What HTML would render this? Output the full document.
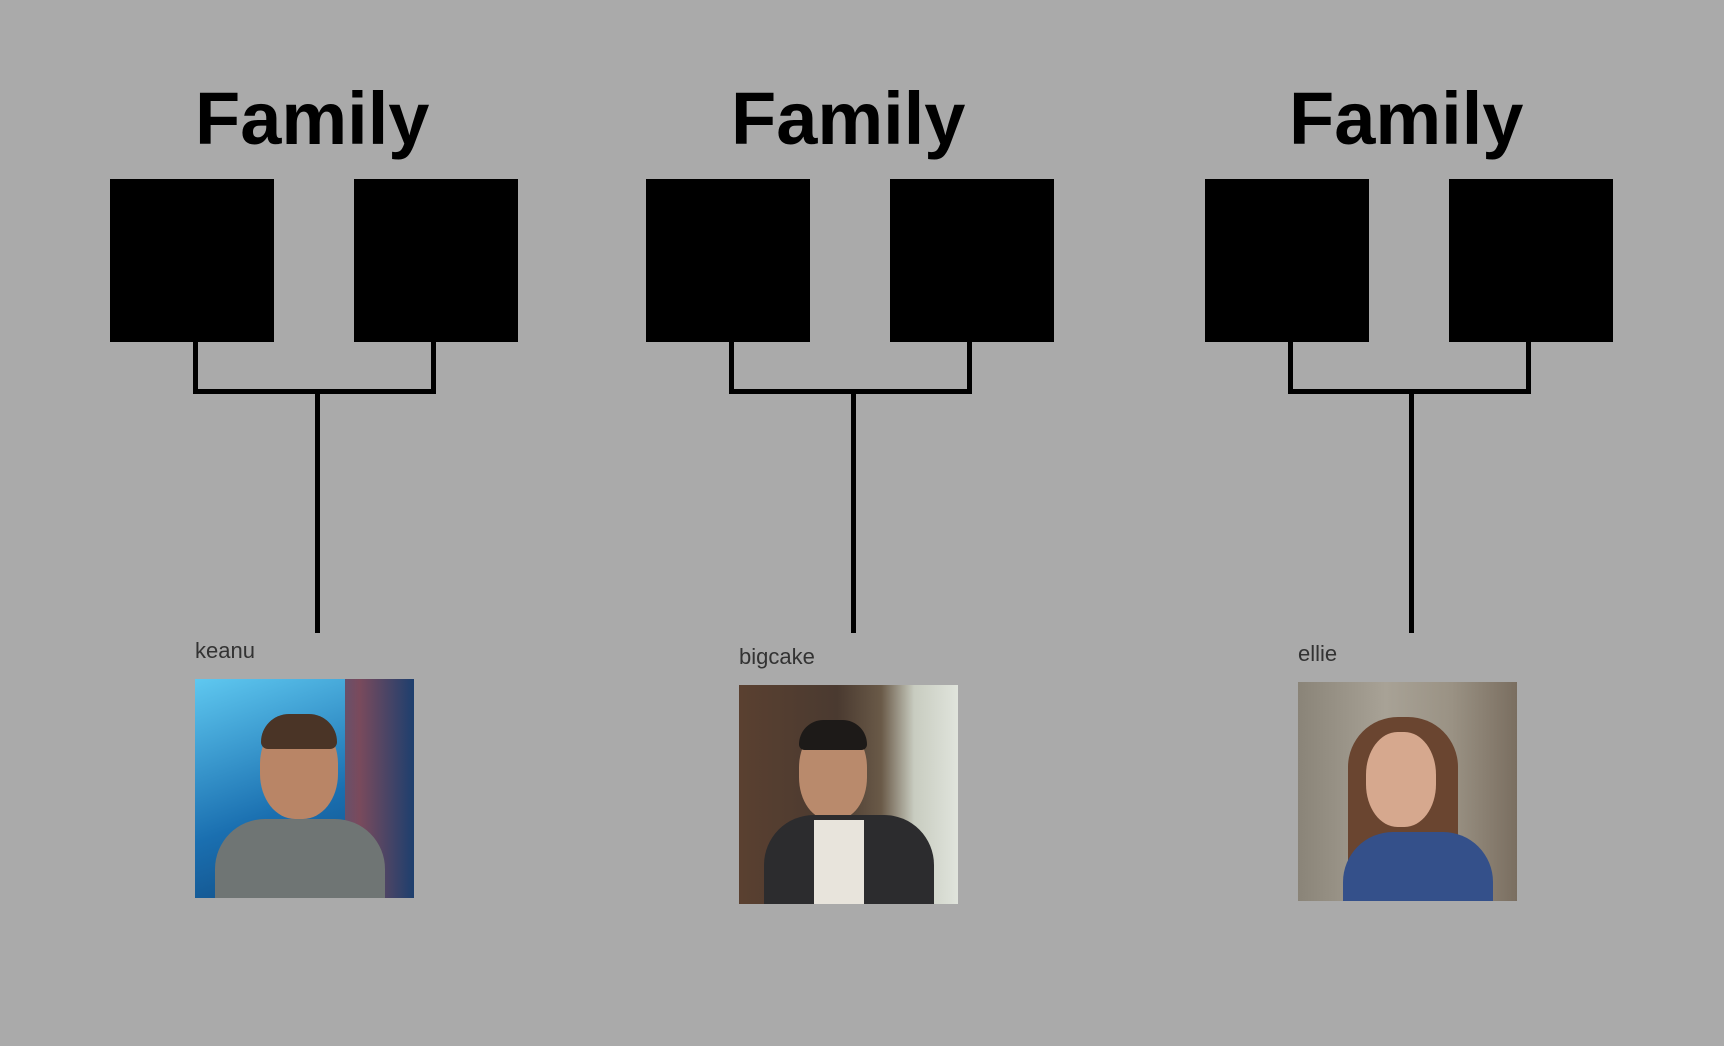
<!DOCTYPE html>
<html><head><style>
html,body{margin:0;padding:0}
body{width:1724px;height:1046px;background:#aaaaaa;position:relative;overflow:hidden;font-family:"Liberation Sans",sans-serif}
.t{position:absolute;font-weight:bold;font-size:74px;letter-spacing:0px;color:#000;line-height:1}
.b{position:absolute;background:#000;width:164px;height:163px;top:179px}
.l{position:absolute;background:#000}
.n{position:absolute;font-size:22px;color:#333}
.p{position:absolute;width:219px;height:219px;overflow:hidden}
</style></head><body>

<!-- group 1 -->
<div class="t" style="left:195px;top:82px">Family</div>
<div class="b" style="left:110px"></div><div class="b" style="left:354px"></div>
<div class="l" style="left:193px;top:342px;width:5px;height:52px"></div>
<div class="l" style="left:431px;top:342px;width:5px;height:52px"></div>
<div class="l" style="left:193px;top:389px;width:243px;height:5px"></div>
<div class="l" style="left:315px;top:389px;width:5px;height:244px"></div>
<div class="n" style="left:195px;top:638px">keanu</div>
<div class="p" style="left:195px;top:679px;background:linear-gradient(90deg,#1a7fc4 0%,#1c6aa8 40%,#7a4a5c 75%,#1d3f6e 100%)">
 <div style="position:absolute;left:0;top:0;width:150px;height:219px;background:linear-gradient(160deg,#5fc8f0,#1a6fb0 60%,#124a80)"></div>
 <div style="position:absolute;left:65px;top:40px;width:78px;height:100px;border-radius:45%;background:#b98566"></div>
 <div style="position:absolute;left:66px;top:35px;width:76px;height:35px;border-radius:40px 40px 10px 10px;background:#4a3426"></div>
 <div style="position:absolute;left:20px;top:140px;width:170px;height:90px;border-radius:50px 50px 0 0;background:#6f7574"></div>
</div>

<!-- group 2 -->
<div class="t" style="left:731px;top:82px">Family</div>
<div class="b" style="left:646px"></div><div class="b" style="left:890px"></div>
<div class="l" style="left:729px;top:342px;width:5px;height:52px"></div>
<div class="l" style="left:967px;top:342px;width:5px;height:52px"></div>
<div class="l" style="left:729px;top:389px;width:243px;height:5px"></div>
<div class="l" style="left:851px;top:389px;width:5px;height:244px"></div>
<div class="n" style="left:739px;top:644px">bigcake</div>
<div class="p" style="left:739px;top:685px;background:linear-gradient(90deg,#5a4030 0%,#4a3a30 45%,#6a5a48 65%,#c8ccc0 80%,#e0e4dc 100%)">
 <div style="position:absolute;left:60px;top:40px;width:68px;height:95px;border-radius:45%;background:#b98a6c"></div>
 <div style="position:absolute;left:60px;top:35px;width:68px;height:30px;border-radius:35px 35px 8px 8px;background:#1d1a18"></div>
 <div style="position:absolute;left:25px;top:130px;width:170px;height:95px;border-radius:50px 50px 0 0;background:#2c2c2e"></div>
 <div style="position:absolute;left:75px;top:135px;width:50px;height:90px;background:#e8e4dc"></div>
</div>

<!-- group 3 -->
<div class="t" style="left:1289px;top:82px">Family</div>
<div class="b" style="left:1205px"></div><div class="b" style="left:1449px"></div>
<div class="l" style="left:1288px;top:342px;width:5px;height:52px"></div>
<div class="l" style="left:1526px;top:342px;width:5px;height:52px"></div>
<div class="l" style="left:1288px;top:389px;width:243px;height:5px"></div>
<div class="l" style="left:1409px;top:389px;width:5px;height:244px"></div>
<div class="n" style="left:1298px;top:641px">ellie</div>
<div class="p" style="left:1298px;top:682px;background:linear-gradient(90deg,#8a8478 0%,#a8a296 40%,#9a9284 70%,#7a6e60 100%)">
 <div style="position:absolute;left:50px;top:35px;width:110px;height:184px;border-radius:50px 50px 10px 10px;background:#6a4530"></div>
 <div style="position:absolute;left:68px;top:50px;width:70px;height:95px;border-radius:45%;background:#d6a88e"></div>
 <div style="position:absolute;left:45px;top:150px;width:150px;height:80px;border-radius:50px 50px 0 0;background:#34508a"></div>
</div>

</body></html>
